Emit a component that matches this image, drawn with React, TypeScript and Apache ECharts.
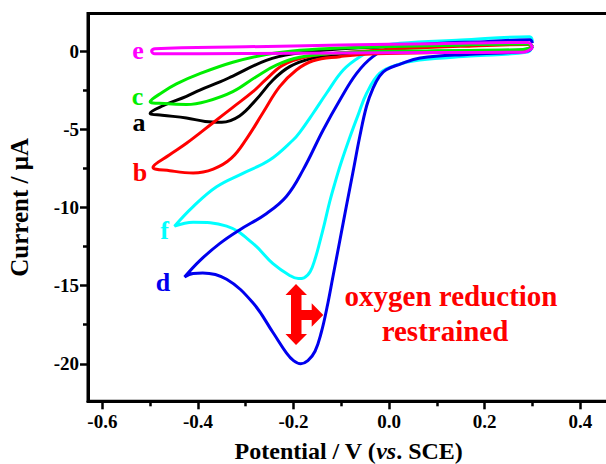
import React, { useEffect, useRef } from "react";
import * as echarts from "echarts";

// Axis ticks
const xTicks = [-0.6, -0.4, -0.2, 0.0, 0.2, 0.4];
const xMinorTicks = [-0.5, -0.3, -0.1, 0.1, 0.3];
const yTicks = [-20, -15, -10, -5, 0];
const yMinorTicks = [-17.5, -12.5, -7.5, -2.5];

// Curve a (black)
const curveA: [number, number][] = [
  [0.3, 0.3], [0.28, 0.05], [0.1, -0.02], [-0.05, -0.1], [-0.117, -0.26],
  [-0.166, -0.5], [-0.208, -1.0], [-0.243, -1.85], [-0.278, -3.1],
  [-0.313, -4.15], [-0.35, -4.55], [-0.385, -4.5], [-0.424, -4.28],
  [-0.475, -4.1], [-0.5, -3.98],
  [-0.473, -3.5], [-0.424, -2.9], [-0.396, -2.5], [-0.354, -1.98],
  [-0.327, -1.6], [-0.257, -0.6], [-0.201, -0.18], [-0.1, 0.15],
  [0.1, 0.35], [0.29, 0.5], [0.3, 0.3],
];

// Curve b (red)
const curveB: [number, number][] = [
  [0.3, 0.25], [0.28, 0.0], [0.1, -0.1], [-0.05, -0.2], [-0.103, -0.36],
  [-0.159, -0.62], [-0.194, -1.21], [-0.229, -2.28], [-0.264, -3.95],
  [-0.298, -5.6], [-0.33, -6.85], [-0.368, -7.55], [-0.41, -7.8],
  [-0.459, -7.65], [-0.494, -7.44],
  [-0.46, -6.65], [-0.424, -5.9], [-0.369, -4.6], [-0.327, -3.6],
  [-0.285, -2.6], [-0.257, -1.8], [-0.222, -0.9], [-0.173, -0.38],
  [-0.117, -0.15], [0.0, 0.1], [0.15, 0.3], [0.29, 0.42], [0.3, 0.25],
];

// Curve c (green)
const curveC: [number, number][] = [
  [0.3, 0.3], [0.28, 0.1], [0.1, 0.02], [-0.05, -0.05], [-0.117, -0.15],
  [-0.187, -0.4], [-0.236, -0.9], [-0.278, -1.64], [-0.327, -2.6],
  [-0.382, -3.22], [-0.424, -3.42], [-0.47, -3.36], [-0.5, -3.24],
  [-0.475, -2.65], [-0.445, -2.1], [-0.396, -1.45], [-0.327, -0.72],
  [-0.257, -0.22], [-0.187, 0.05], [-0.1, 0.2], [0.1, 0.35],
  [0.29, 0.45], [0.3, 0.3],
];

// Curve d (blue)
const curveD: [number, number][] = [
  [0.3, 0.3], [0.29, 0.0], [0.17, -0.2], [0.065, -0.45], [0.022, -0.85],
  [-0.006, -1.2], [-0.02, -1.6], [-0.034, -2.4], [-0.047, -3.5],
  [-0.061, -5.4], [-0.076, -7.8], [-0.089, -9.85], [-0.103, -12.1],
  [-0.118, -14.5], [-0.13, -16.4], [-0.142, -18.0], [-0.155, -19.2],
  [-0.17, -19.8], [-0.185, -20.0], [-0.2, -19.8], [-0.215, -19.3],
  [-0.243, -18.0], [-0.285, -16.1], [-0.34, -14.6], [-0.39, -14.2],
  [-0.41, -14.22], [-0.428, -14.45],
  [-0.396, -13.4], [-0.354, -12.3], [-0.313, -11.44], [-0.257, -10.4],
  [-0.215, -9.3], [-0.18, -7.6], [-0.138, -5.05], [-0.103, -3.13],
  [-0.068, -1.43], [-0.034, -0.36], [0.001, 0.17], [0.085, 0.45],
  [0.2, 0.6], [0.294, 0.72], [0.3, 0.5],
];

// Curve e (magenta)
const curveE: [number, number][] = [
  [0.3, 0.2], [0.28, -0.08], [0.1, -0.1], [-0.1, -0.12], [-0.3, -0.16],
  [-0.49, -0.18], [-0.497, 0.0], [-0.49, 0.15], [-0.3, 0.27],
  [-0.1, 0.38], [0.1, 0.47], [0.29, 0.55], [0.3, 0.2],
];

// Curve f (cyan)
const curveF: [number, number][] = [
  [0.3, 0.3], [0.29, -0.06], [0.17, -0.32], [0.064, -0.58], [0.015, -0.9],
  [-0.02, -1.43], [-0.047, -2.7], [-0.065, -4.1], [-0.082, -5.5],
  [-0.1, -7.1], [-0.113, -8.4], [-0.124, -9.6], [-0.135, -11.0],
  [-0.145, -12.2], [-0.155, -13.3], [-0.165, -14.1], [-0.178, -14.5],
  [-0.19, -14.55], [-0.208, -14.35], [-0.243, -13.6], [-0.285, -12.3],
  [-0.34, -11.2], [-0.41, -10.95], [-0.449, -11.2],
  [-0.41, -9.95], [-0.361, -8.68], [-0.306, -7.82], [-0.25, -6.97],
  [-0.201, -5.69], [-0.187, -5.2], [-0.159, -3.98], [-0.131, -2.7],
  [-0.096, -1.21], [-0.061, -0.36], [-0.02, 0.27], [0.022, 0.49],
  [0.15, 0.7], [0.294, 0.91], [0.3, 0.6],
];

const curveNames = ["f", "d", "a", "b", "c", "e"];
const curveColors = ["#00ffff", "#0000ee", "#000000", "#ff0000", "#00ee00", "#ff00ff"];
const curveData = [curveF, curveD, curveA, curveB, curveC, curveE];

const annotationLines = ["oxygen reduction", "restrained"];

const FONT = '"Liberation Serif", "Times New Roman", serif';

export default function App() {
  const ref = useRef<HTMLDivElement>(null);

  useEffect(() => {
    if (!ref.current) return;
    const chart = echarts.init(ref.current, undefined, { renderer: "svg" });

    const labelStyle = {
      fontFamily: FONT,
      fontWeight: "bold" as const,
      fontSize: 19,
      color: "#000",
    };

    const letterPos: Record<string, [number, number]> = {
      e: [138, 50.6],
      c: [137.5, 96.5],
      a: [139, 122.5],
      b: [140, 172.3],
      f: [164.5, 230.6],
      d: [163, 282.3],
    };

    const letterGraphics = curveNames.map((n, i) => ({
      type: "text",
      x: letterPos[n][0],
      y: letterPos[n][1],
      z: 10,
      style: {
        text: n,
        fill: curveColors[i],
        fontFamily: FONT,
        fontWeight: "bold",
        fontSize: 26,
        align: "center",
        verticalAlign: "middle",
      },
    }));

    const annotationPos: [number, number][] = [
      [451, 296.2],
      [445, 330.9],
    ];

    const annotationGraphics = annotationLines.map((t, i) => ({
      type: "text",
      x: annotationPos[i][0],
      y: annotationPos[i][1],
      z: 10,
      style: {
        text: t,
        fill: "#ff0000",
        fontFamily: FONT,
        fontWeight: "bold",
        fontSize: 29,
        align: "center",
        verticalAlign: "middle",
      },
    }));

    const arrow = {
      type: "polygon",
      z: 10,
      shape: {
        points: [
          [296, 284], [307, 295], [301.5, 295], [301.5, 310], [311.7, 310],
          [311.7, 303.3], [323.3, 315], [311.7, 326.7], [311.7, 320],
          [301.5, 320], [301.5, 334], [307, 334], [296, 345], [285.5, 334],
          [291, 334], [291, 295], [285.5, 295],
        ],
      },
      style: { fill: "#ff0000" },
    };

    const option: any = {
      animation: false,
      backgroundColor: "#ffffff",
      grid: {
        left: 88,
        right: -3,
        top: 13.5,
        bottom: 62.7,
        show: true,
        borderColor: "#000",
        borderWidth: 3,
        backgroundColor: "transparent",
        containLabel: false,
        outerBoundsMode: "none",
      },
      xAxis: [
        {
          type: "value",
          min: -0.63,
          max: 0.46,
          position: "bottom",
          axisLine: { show: true, onZero: false, lineStyle: { color: "#000", width: 3 } },
          axisTick: {
            show: true,
            inside: false,
            length: 8,
            customValues: xTicks,
            lineStyle: { color: "#000", width: 2.5 },
          },
          axisLabel: {
            ...labelStyle,
            margin: 11,
            customValues: xTicks,
            formatter: (v: number) => (Math.abs(v) < 1e-9 ? "0.0" : v.toFixed(1)),
          },
          splitLine: { show: false },
          name: "Potential / V ({i|vs}. SCE)",
          nameLocation: "middle",
          nameGap: 38,
          nameMoveOverlap: false,
          nameTextStyle: {
            fontFamily: FONT,
            fontWeight: "bold",
            fontSize: 24,
            color: "#000",
            rich: {
              i: {
                fontFamily: FONT,
                fontWeight: "bold",
                fontStyle: "italic",
                fontSize: 24,
                color: "#000",
              },
            },
          },
        },
        {
          type: "value",
          min: -0.63,
          max: 0.46,
          position: "bottom",
          gridIndex: 0,
          axisLine: { show: false, onZero: false },
          axisTick: {
            show: true,
            inside: false,
            length: 5,
            customValues: xMinorTicks,
            lineStyle: { color: "#000", width: 2.5 },
          },
          axisLabel: { show: false },
          splitLine: { show: false },
        },
      ],
      yAxis: [
        {
          type: "value",
          min: -22.4,
          max: 2.4,
          position: "left",
          axisLine: { show: true, onZero: false, lineStyle: { color: "#000", width: 3 } },
          axisTick: {
            show: true,
            inside: false,
            length: 8,
            customValues: yTicks,
            lineStyle: { color: "#000", width: 2.5 },
          },
          axisLabel: {
            ...labelStyle,
            margin: 9,
            customValues: yTicks,
            formatter: (v: number) => (Math.abs(v) < 1e-9 ? "0" : String(Math.round(v))),
          },
          splitLine: { show: false },
          name: "Current / μA",
          nameLocation: "middle",
          nameGap: 56,
          nameMoveOverlap: false,
          nameTextStyle: {
            fontFamily: FONT,
            fontWeight: "bold",
            fontSize: 25,
            color: "#000",
          },
        },
        {
          type: "value",
          min: -22.4,
          max: 2.4,
          position: "left",
          gridIndex: 0,
          axisLine: { show: false, onZero: false },
          axisTick: {
            show: true,
            inside: false,
            length: 5,
            customValues: yMinorTicks,
            lineStyle: { color: "#000", width: 2.5 },
          },
          axisLabel: { show: false },
          splitLine: { show: false },
        },
      ],
      series: curveData.map((d, i) => ({
        name: curveNames[i],
        type: "line",
        data: d,
        xAxisIndex: 0,
        yAxisIndex: 0,
        smooth: 0.4,
        showSymbol: false,
        symbol: "none",
        lineStyle: { color: curveColors[i], width: 3 },
        z: 2 + i,
      })),
      graphic: [...letterGraphics, ...annotationGraphics, arrow],
    };

    chart.setOption(option);
    return () => {
      chart.dispose();
    };
  }, []);

  return (
    <div
      ref={ref}
      style={{ position: "absolute", left: 0, top: 0, width: 606, height: 464 }}
    />
  );
}
